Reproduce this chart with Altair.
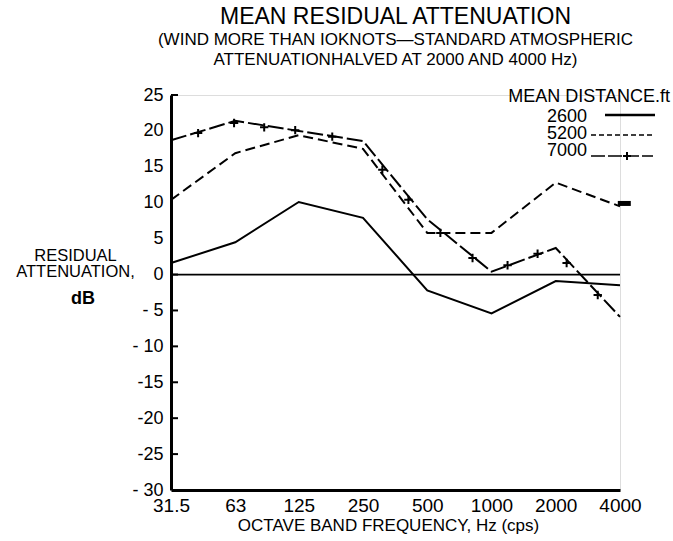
import altair as alt
import pandas as pd

# ---- data ----
freqs = [31.5, 63, 125, 250, 500, 1000, 2000, 4000]
att_2600 = [1.6, 4.5, 10.1, 7.9, -2.2, -5.4, -0.9, -1.5]
att_5200 = [10.4, 16.9, 19.4, 17.5, 5.8, 5.8, 12.8, 9.5]
att_7000 = [18.7, 21.4, 20.0, 18.6, 7.7, 0.4, 3.7, -5.9]
marker_freqs_7000 = [42.2, 62.2, 86.1, 120.3, 179.4, 308, 408, 576, 815, 1189, 1644, 2249, 3146]
marker_att_7000 = [19.7, 21.1, 20.5, 20.1, 19.2, 14.6, 10.4, 5.8, 2.3, 1.3, 2.9, 1.6, -2.85]
end_mark_freq = [4190]
end_mark_att = [9.9]

x_ticks = [31.5, 63, 125, 250, 500, 1000, 2000, 4000]
x_tick_labels = ["31.5", "63", "125", "250", "500", "1000", "2000", "4000"]
y_ticks = [25, 20, 15, 10, 5, 0, -5, -10, -15, -20, -25, -30]
y_tick_labels = ["25", "20", "15", "10", "5", "0", "- 5", "- 10", "-15", "-20", "-25", "- 30"]
inner_ticks = [25, 0, -5, -10, -15, -20, -25]
series_names = ["2600", "5200", "7000"]
legend_title = "MEAN DISTANCE.ft"

FONT = "Liberation Sans"
W, H = 449, 395
PLUS = "M-1,0L1,0M0,-1L0,1"


def js_list(vals, quote=False):
    if quote:
        return "[" + ",".join("'" + v + "'" for v in vals) + "]"
    return "[" + ",".join(str(v) for v in vals) + "]"


x_label_expr = f"{js_list(x_tick_labels, True)}[indexof({js_list(x_ticks)}, datum.value)]"
y_label_expr = f"{js_list(y_tick_labels, True)}[indexof({js_list(y_ticks)}, datum.value)]"

xscale = alt.Scale(type="log", base=2, domain=[31.5, 4000], nice=False)
yscale = alt.Scale(domain=[-30, 25], nice=False, zero=False)

x_axis = alt.Axis(values=x_ticks, labelExpr=x_label_expr, ticks=False, grid=False,
                  domainColor="black", domainWidth=3, labelFont=FONT, labelFontSize=19,
                  labelColor="black", labelPadding=6, labelFlush=False, labelOverlap=False,
                  title="OCTAVE BAND FREQUENCY, Hz (cps)", titleFont=FONT, titleFontSize=17,
                  titleFontWeight="normal", titleColor="black", titleX=217, titleY=40,
                  titleBaseline="alphabetic", titleAlign="center")
y_axis = alt.Axis(values=y_ticks, labelExpr=y_label_expr, ticks=False, grid=False,
                  domainColor="black", domainWidth=3, labelFont=FONT, labelFontSize=18,
                  labelColor="black", labelPadding=8, labelFlush=False, labelOverlap=False,
                  title=["RESIDUAL", "ATTENUATION,"], titleFont=FONT, titleFontSize=16.5,
                  titleFontWeight="normal", titleColor="black", titleAngle=0,
                  titleAlign="center", titleBaseline="top", titleX=-96, titleY=152,
                  titleLineHeight=16)


def series_df(vals):
    return pd.DataFrame({"f": freqs, "att": vals})


base_x = alt.X("f:Q", scale=xscale, axis=x_axis)
base_y = alt.Y("att:Q", scale=yscale, axis=y_axis)

zero_line = alt.Chart(pd.DataFrame({"att": [0]})).mark_rule(
    color="black", strokeWidth=1.8).encode(y=alt.Y("att:Q", scale=yscale, axis=y_axis))

ticks_in = alt.Chart(pd.DataFrame({"att": inner_ticks})).mark_rule(
    color="black", strokeWidth=2).encode(
    y=alt.Y("att:Q", scale=yscale, axis=y_axis), x=alt.value(0), x2=alt.value(7))

line_2600 = alt.Chart(series_df(att_2600)).mark_line(
    color="black", strokeWidth=2).encode(x=base_x, y=base_y)
line_5200 = alt.Chart(series_df(att_5200)).mark_line(
    color="black", strokeWidth=2, strokeDash=[10, 5]).encode(x=base_x, y=base_y)
line_7000 = alt.Chart(series_df(att_7000)).mark_line(
    color="black", strokeWidth=2, strokeDash=[16, 4]).encode(x=base_x, y=base_y)

markers_7000 = alt.Chart(pd.DataFrame({"f": marker_freqs_7000, "att": marker_att_7000})).mark_point(
    shape=PLUS, size=70, filled=False, stroke="black", strokeWidth=2, opacity=1).encode(
    x=base_x, y=base_y)

end_mark = alt.Chart(pd.DataFrame({"f": end_mark_freq, "att": end_mark_att})).mark_tick(
    orient="horizontal", size=13, thickness=5, color="black", opacity=1, clip=False).encode(
    x=base_x, y=base_y)

# ---- legend (drawn by hand: labels left of samples) ----
def txt(label, x, y, size=17, align="right", weight="normal"):
    return alt.Chart(pd.DataFrame({"t": [label]})).mark_text(
        font=FONT, fontSize=size, align=align, baseline="middle", color="black",
        fontWeight=weight).encode(text="t:N", x=alt.value(x), y=alt.value(y))


def sample(x1, x2, y, dash=None, width=2):
    kw = dict(color="black", strokeWidth=width)
    if dash:
        kw["strokeDash"] = dash
    return alt.Chart(pd.DataFrame({"t": [0]})).mark_rule(**kw).encode(
        x=alt.value(x1), x2=alt.value(x2), y=alt.value(y))


leg = [
    txt(legend_title, 499, 2, size=18),
    txt(series_names[0], 416, 22, size=18),
    txt(series_names[1], 416, 39, size=18),
    txt(series_names[2], 416, 56, size=18),
    sample(434, 484, 20, width=2.5),
    sample(420, 482, 40, dash=[5, 3], width=1.6),
    sample(420, 482, 61, dash=[14, 3], width=1.6),
    alt.Chart(pd.DataFrame({"t": [0]})).mark_point(
        shape=PLUS, size=64, filled=False, stroke="black", strokeWidth=2, opacity=1).encode(
        x=alt.value(456), y=alt.value(61)),
    txt("dB", -88, 204, size=18, align="center", weight="bold"),
]

chart = alt.layer(
    zero_line, ticks_in, line_2600, line_5200, line_7000, markers_7000, end_mark, *leg
).properties(
    width=W, height=H,
    autosize=alt.AutoSizeParams(type="none"),
    padding={"left": 171, "top": 95, "right": 53, "bottom": 51},
    title=alt.Title(
        "MEAN  RESIDUAL  ATTENUATION",
        subtitle=["(WIND MORE THAN IOKNOTS\u2014STANDARD ATMOSPHERIC",
                  "ATTENUATIONHALVED AT 2000 AND 4000 Hz)"],
        font=FONT, fontSize=23, fontWeight="normal", color="black",
        subtitleFont=FONT, subtitleFontSize=17, subtitleColor="black",
        subtitleLineHeight=20, subtitlePadding=3, anchor="middle", offset=18),
).configure_view(strokeWidth=0).configure(background="white")

chart.save("out.html", embed_options={"renderer": "svg", "actions": False})
